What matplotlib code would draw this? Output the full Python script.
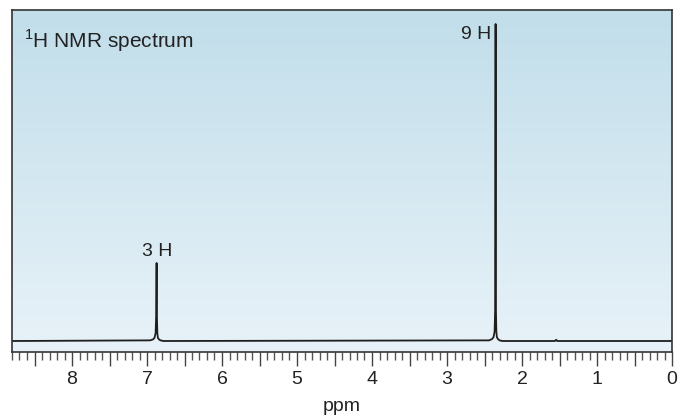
import numpy as np
import matplotlib.pyplot as plt
from matplotlib.colors import LinearSegmentedColormap

plt.rcParams['font.family'] = ['Liberation Sans', 'DejaVu Sans']

# spectrum trace (ppm, relative intensity)
ppm = [8.8, 6.96, 6.92, 6.90, 6.885, 6.878, 6.872, 6.868, 6.862, 6.855, 6.84, 6.82, 6.78,
       2.44, 2.40, 2.38, 2.365, 2.358, 2.352, 2.348, 2.342, 2.335, 2.32, 2.30, 2.26,
       1.56, 1.545, 1.53, 0.0]
intensity = [0.0, 0.002, 0.005, 0.010, 0.025, 0.08, 0.246, 0.08, 0.025, 0.010, 0.005, 0.002, 0.0,
             0.002, 0.006, 0.012, 0.030, 0.10, 1.0, 0.10, 0.030, 0.012, 0.006, 0.002, 0.0,
             0.0, 0.004, 0.0, 0.0]

labels = ['3 H', '9 H']

fig = plt.figure(figsize=(6.79, 4.17), dpi=100)
ax = fig.add_axes([12 / 679, 65 / 417, 660 / 679, 342 / 417])

ylo, yhi = -11 / 317, 331 / 317
ax.set_xlim(8.8, 0)
ax.set_ylim(ylo, yhi)

# background gradient, light blue at top fading downward
cmap = LinearSegmentedColormap.from_list('bg', ['#e8f2f8', '#c1deea'])
grad = np.linspace(0, 1, 256).reshape(-1, 1)
ax.imshow(grad, cmap=cmap, aspect='auto', origin='lower',
          extent=[8.8, 0, ylo, yhi], zorder=0)

ax.plot(ppm, intensity, color='#1e1e1e', lw=1.3, zorder=2)

ax.text(6.87, 0.246 + 0.01, labels[0], ha='center', va='bottom', fontsize=14, color='#222222')
ax.text(2.35 + 0.06, 1.0 - 0.005, labels[1], ha='right', va='top', fontsize=14, color='#222222')

ax.text(0.018, 0.95, r'$^{\mathregular{1}}$H NMR spectrum', transform=ax.transAxes,
        ha='left', va='top', fontsize=15, color='#222222')

for s in ax.spines.values():
    s.set_color('#333333')
    s.set_linewidth(1.2)

ax.set_yticks([])
major = np.arange(0, 8.51, 0.5)
ax.set_xticks(major)
ax.set_xticklabels([str(int(v)) if v == int(v) else '' for v in major], fontsize=14, color='#222222')
ax.set_xticks(np.arange(0, 8.81, 0.1), minor=True)
ax.tick_params(axis='x', which='major', direction='out', length=10, width=1.0, color='#444444', pad=4)
ax.tick_params(axis='x', which='minor', direction='out', length=6, width=1.0, color='#555555')
ax.set_xlabel('ppm', fontsize=14, color='#222222', labelpad=7)

fig.savefig('out.png', dpi=100)
